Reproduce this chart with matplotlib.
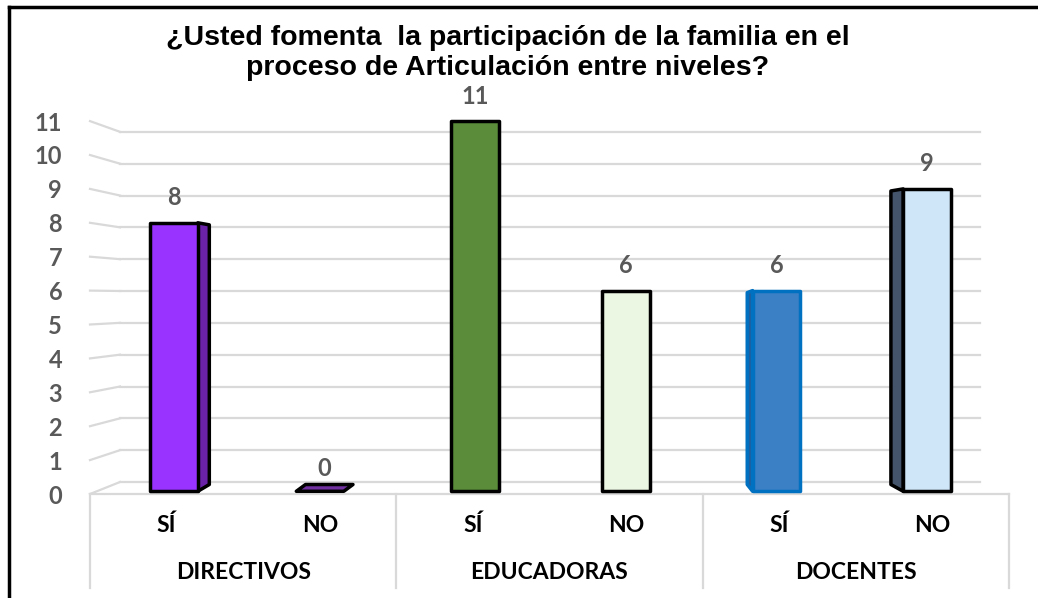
import matplotlib.pyplot as plt
from matplotlib.patches import Polygon, Rectangle
from matplotlib.lines import Line2D

# data
groups = ["DIRECTIVOS", "EDUCADORAS", "DOCENTES"]
answers = ["SÍ", "NO", "SÍ", "NO", "SÍ", "NO"]
values = [8, 0, 11, 6, 6, 9]
front_colors = ["#9933FF", "#7030A0", "#5B8C3A", "#EBF7E3", "#3B7FC4", "#CFE6F8"]
side_colors = ["#6A22A8", "#7030A0", "#4A7530", "#D5E8C8", "#1F5FA0", "#44546A"]
edge_colors = ["black", "black", "black", "black", "#0070C0", "black"]
side_w = [0.075, 0, 0, 0, -0.035, -0.08]   # visible depth face (sign = side)
title = "¿Usted fomenta  la participación de la familia en el\nproceso de Articulación entre niveles?"

W, H = 1038, 598
fig = plt.figure(figsize=(W / 100, H / 100), dpi=100)

# axes: x from -0.5 (px 90) to 5.5 (px 1009); y 0 at px 494, 33.9 px per unit
x0, x1 = 90, 1009
y0 = 494
ppu = 33.9
ytop = 11.8
ax = fig.add_axes([x0 / W, (H - y0) / H, (x1 - x0) / W, ytop * ppu / H])
ax.set_xlim(-0.5, 5.5)
ax.set_ylim(0, ytop)
for s in ax.spines.values():
    s.set_visible(False)
ax.set_xticks([])

gray = "#D9D9D9"
lab_font = "Lato"
# back-wall gridlines with perspective stub on the left
back = lambda v: 0.354 + 0.939 * v
xb0, xb1 = -0.304, 5.31
for v in range(0, 12):
    ax.plot([-0.5, xb0], [v, back(v)], color=gray, lw=1.6, zorder=1, clip_on=False)
    ax.plot([xb0, xb1], [back(v), back(v)], color=gray, lw=1.6, zorder=1)
# floor front edge
ax.plot([-0.5, 5.5], [0, 0], color=gray, lw=1.6, zorder=1, clip_on=False)

ax.set_yticks(range(0, 12))
ax.set_yticklabels([str(v) for v in range(0, 12)])
ax.tick_params(axis="y", length=0, pad=20, labelsize=17, labelcolor="#595959")
for t in ax.get_yticklabels():
    t.set_fontweight("bold")
    t.set_family(lab_font)

# bars with a pseudo 3D side face (bars sit on the back plane: slightly tighter spacing)
bw = 0.31
for i, v in enumerate(values):
    xc = 0.049 + 0.983 * i
    xl = xc - bw / 2
    xr = xl + bw
    base = 0.08
    if v == 0:
        poly = Polygon([(xl - 0.03, base), (xr - 0.03, base), (xr + 0.03, base + 0.2),
                        (xl + 0.03, base + 0.2)], closed=True,
                       facecolor=front_colors[i], edgecolor="black", lw=2.5, zorder=3,
                       joinstyle="round")
        ax.add_patch(poly)
    else:
        sw = side_w[i]
        if sw != 0:
            xe = xr if sw > 0 else xl
            side = [(xe, base), (xe + sw, base + 0.2), (xe + sw, v - 0.06), (xe, v)]
            ax.add_patch(Polygon(side, closed=True, facecolor=side_colors[i],
                                 edgecolor=edge_colors[i], lw=2.5, zorder=3,
                                 joinstyle="round"))
        ax.add_patch(Rectangle((xl, base), bw, v - base, facecolor=front_colors[i],
                               edgecolor=edge_colors[i], lw=2.5, zorder=4, joinstyle="round"))
    ax.text(xc, v + 0.4, str(v), ha="center", va="bottom", fontsize=17,
            fontweight="bold", color="#595959", family=lab_font, zorder=5)

# category axis table below the floor
for i, a in enumerate(answers):
    ax.text(i, -0.92, a, ha="center", va="center", fontsize=16.5, fontweight="bold",
            family=lab_font, color="black", clip_on=False)
for g, name in enumerate(groups):
    ax.text(2 * g + 0.5, -2.31, name, ha="center", va="center", fontsize=16.5,
            fontweight="bold", family=lab_font, color="black", clip_on=False)
for xs in [-0.5, 1.5, 3.5, 5.5]:
    ax.plot([xs, xs], [0, -2.76], color=gray, lw=1.6, clip_on=False)

fig.text(508 / W, 1 - 53 / H, title, ha="center", va="center", fontsize=20.5,
         fontweight="bold", family="Liberation Sans", linespacing=1.22)

# outer frame (top and left visible)
fig.add_artist(Line2D([9 / W, 9 / W], [0, 1 - 7 / H], color="black", lw=2.5,
                      transform=fig.transFigure))
fig.add_artist(Line2D([9 / W, 1], [1 - 7 / H, 1 - 7 / H], color="black", lw=2.5,
                      transform=fig.transFigure))

fig.savefig("out.png", dpi=100)
